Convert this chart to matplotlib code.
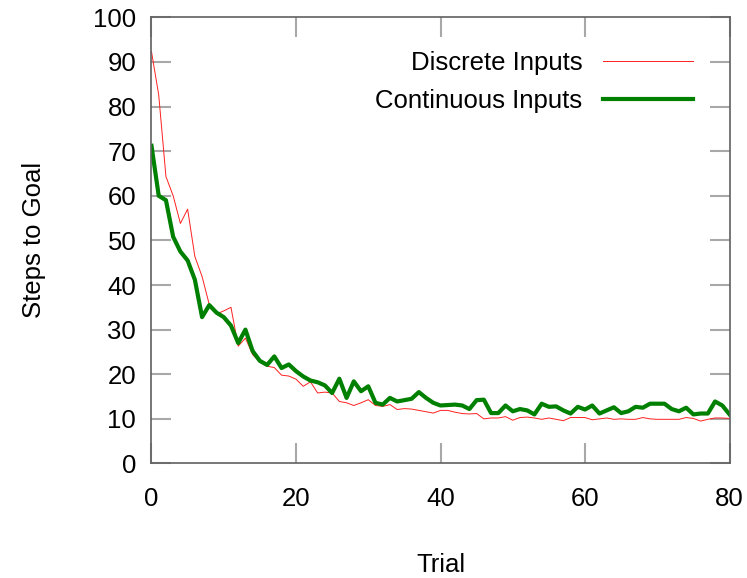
import matplotlib
matplotlib.use("Agg")
import matplotlib.pyplot as plt
import numpy as np

plt.rcParams['font.family'] = ['Liberation Sans', 'DejaVu Sans']

trials = list(range(0, 81))
discrete = [92.3, 82.6, 64.3, 60.0, 53.8, 57.0, 46.4, 41.9, 35.6, 33.5,
            34.2, 35.0, 26.3, 28.1, 24.4, 22.7, 21.8, 21.5, 19.8, 19.6,
            18.9, 17.3, 18.3, 15.8, 16.0, 15.8, 13.9, 13.6, 13.0, 13.6,
            14.3, 13.0, 12.8, 13.2, 12.1, 12.3, 12.2, 11.9, 11.6, 11.3,
            11.9, 11.9, 11.5, 11.2, 11.1, 11.2, 10.0, 10.2, 10.2, 10.5,
            9.7, 10.3, 10.4, 10.2, 9.9, 10.2, 9.9, 9.6, 10.3, 10.3,
            10.3, 9.8, 10.0, 10.2, 9.9, 10.0, 9.9, 9.9, 10.3, 10.0,
            9.9, 9.9, 9.9, 9.9, 10.3, 10.1, 9.5, 9.9, 10.2, 10.2, 10.1]
continuous = [71.2, 60.0, 59.0, 50.8, 47.5, 45.5, 41.2, 32.8, 35.5, 33.8,
              32.8, 30.9, 27.0, 30.0, 25.2, 23.0, 22.1, 24.0, 21.4, 22.2,
              20.7, 19.5, 18.6, 18.2, 17.5, 15.8, 19.0, 14.7, 18.4, 16.2,
              17.3, 13.6, 13.2, 14.7, 13.9, 14.2, 14.5, 16.0, 14.7, 13.6,
              13.0, 13.1, 13.2, 13.0, 12.2, 14.2, 14.3, 11.3, 11.3, 13.0,
              11.7, 12.2, 11.9, 11.0, 13.4, 12.7, 12.8, 11.9, 11.2, 12.7,
              12.1, 13.0, 11.2, 11.9, 12.6, 11.3, 11.7, 12.7, 12.5, 13.4,
              13.4, 13.4, 12.2, 11.7, 12.5, 11.0, 11.2, 11.2, 13.9, 13.0, 11.0]
series_labels = ["Discrete Inputs", "Continuous Inputs"]
xticks = [0, 20, 40, 60, 80]
yticks = [0, 10, 20, 30, 40, 50, 60, 70, 80, 90, 100]

fig = plt.figure(figsize=(7.47, 5.78), dpi=100)
ax = fig.add_axes([0.2028, 0.1981, 0.7738, 0.772])

ax.plot(trials, discrete, color='#ff2020', lw=0.7, label=series_labels[0])
ax.plot(trials, continuous, color='#008000', lw=3.0, label=series_labels[1])

ax.set_xlim(0, 80)
ax.set_ylim(0, 100)
ax.set_xticks(xticks)
ax.set_yticks(yticks)

fs = 18.5
ax.tick_params(axis='both', which='both', direction='in', length=14.4, width=1.5,
               color='#a8a8a8', labelsize=fs, labelcolor='black',
               top=True, right=True)
ax.tick_params(axis='y', pad=11)
ax.tick_params(axis='x', pad=17)
for sp in ax.spines.values():
    sp.set_color('#606060')
    sp.set_linewidth(1.2)

ax.set_xlabel("Trial", fontsize=fs, labelpad=30)
ax.set_ylabel("Steps to Goal", fontsize=fs, labelpad=34)

leg = ax.legend(loc='upper right', bbox_to_anchor=(0.937, 0.925), frameon=False,
                markerfirst=False, fontsize=fs, handlelength=3.5,
                handletextpad=0.8, labelspacing=0.56, borderpad=0, borderaxespad=0)

fig.savefig("out.png", dpi=100)
